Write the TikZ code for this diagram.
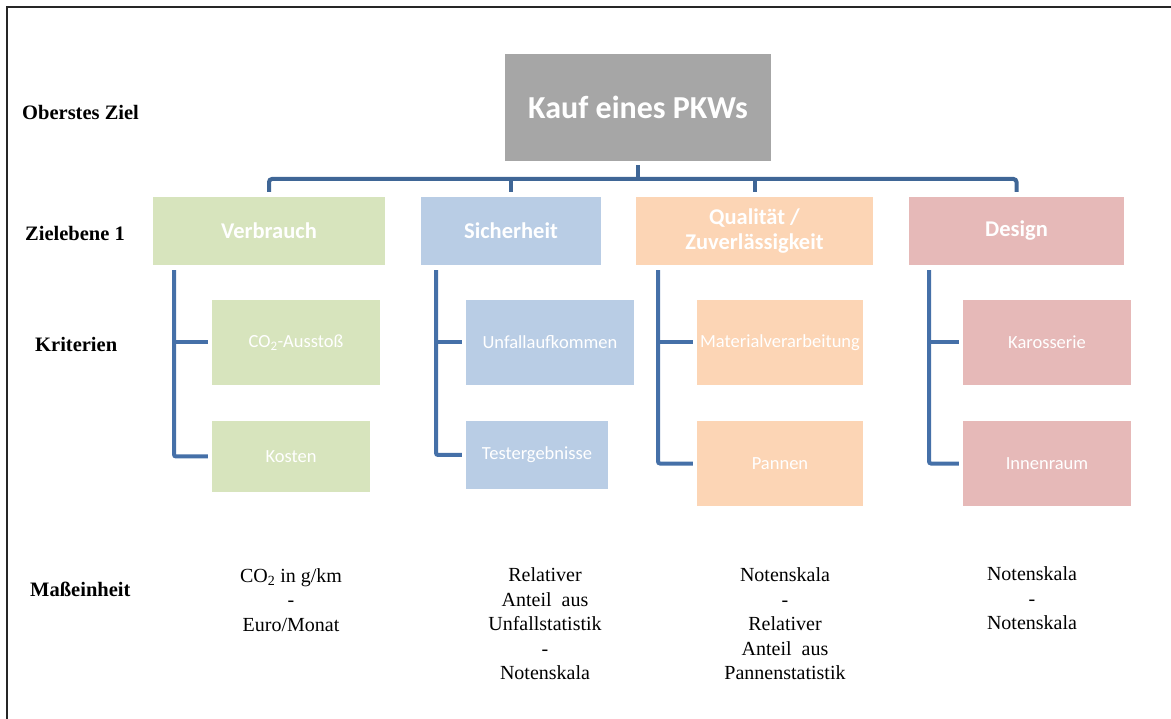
\documentclass[tikz,border=0pt]{standalone}
\usepackage{fontspec}
\setmainfont{Liberation Serif}
\newfontfamily\calibri{Carlito}
\definecolor{cgray}{HTML}{A6A6A6}
\definecolor{cgreen}{HTML}{D7E4BD}
\definecolor{cblue}{HTML}{B9CDE5}
\definecolor{corange}{HTML}{FCD5B5}
\definecolor{cpink}{HTML}{E6B9B8}
\definecolor{cline}{HTML}{4570A8}
\definecolor{cbus}{HTML}{3F6696}
\begin{document}
\begin{tikzpicture}[x=1pt,y=-1pt,
  box/.style={rectangle, inner sep=0pt, text=white, align=center},
  goal/.style={box, font=\calibri\bfseries\fontsize{32}{37}\selectfont},
  lvlone/.style={box, font=\calibri\bfseries\fontsize{22.5}{25}\selectfont},
  crit/.style={box, font=\calibri\fontsize{18.5}{22}\selectfont},
  rowlabel/.style={anchor=west, inner sep=0pt, font=\bfseries\fontsize{20.5}{24}\selectfont},
  unit/.style={align=center, inner sep=0pt, font=\fontsize{20}{24.5}\selectfont},
  bus/.style={draw=cbus, line width=4pt, rounded corners=3pt},
  conn/.style={draw=cline, line width=4pt, rounded corners=2pt}]
\useasboundingbox (0,0) rectangle (1171,719);
% outer frame (left and top edges)
\draw[line width=2.2pt, black!85] (7,719) -- (7,7) -- (1171,7);

% row labels
\node[rowlabel] (lab1) at (22,112) {Oberstes Ziel};
\node[rowlabel] (lab2) at (25,233) {Zielebene 1};
\node[rowlabel] (lab3) at (35,344) {Kriterien};
\node[rowlabel] (lab4) at (30,589) {Maßeinheit};

% top goal
\node[goal, fill=cgray, minimum width=266pt, minimum height=107pt] (top) at (638,107.5) {Kauf eines PKWs};

% level 1
\node[lvlone, fill=cgreen, minimum width=232pt, minimum height=68pt] (verb) at (269,231) {Verbrauch};
\node[lvlone, fill=cblue, minimum width=180pt, minimum height=68pt] (sich) at (511,231) {Sicherheit};
\node[lvlone, fill=corange, minimum width=237pt, minimum height=68pt] (qual) at (754.5,231) {Qualität /\\Zuverlässigkeit};
\node[lvlone, fill=cpink, minimum width=215pt, minimum height=68pt] (design) at (1016.5,231) {Design};

% criteria
\node[crit, fill=cgreen, minimum width=168pt, minimum height=85pt] (co2) at (296,342.5) {CO\textsubscript{2}-Ausstoß};
\node[crit, fill=cgreen, minimum width=158pt, minimum height=71pt] (kosten) at (291,456.5) {Kosten};
\node[crit, fill=cblue, minimum width=168pt, minimum height=85pt] (unfall) at (550,342.5) {Unfallaufkommen};
\node[crit, fill=cblue, minimum width=142pt, minimum height=68pt] (tester) at (537,455) {Testergebnisse};
\node[crit, fill=corange, minimum width=166pt, minimum height=85pt] (material) at (780,342.5) {Materialverarbeitung};
\node[crit, fill=corange, minimum width=166pt, minimum height=85pt] (pannen) at (780,463.5) {Pannen};
\node[crit, fill=cpink, minimum width=168pt, minimum height=85pt] (karo) at (1047,342.5) {Karosserie};
\node[crit, fill=cpink, minimum width=168pt, minimum height=85pt] (innen) at (1047,463.5) {Innenraum};

% units of measurement
\node[unit] (u1) at (291,600) {CO\textsubscript{2} in g/km\\-\\Euro/Monat};
\node[unit] (u2) at (545,624) {Relativer\\Anteil\ \ aus\\Unfallstatistik\\-\\Notenskala};
\node[unit] (u3) at (785,624) {Notenskala\\-\\Relativer\\Anteil\ \ aus\\Pannenstatistik};
\node[unit] (u4) at (1032,598.5) {Notenskala\\-\\Notenskala};

% bus from the goal to level 1
\coordinate (busy) at (0,179);
\draw[bus, shorten <=4pt] (top.south) -- (top.south |- busy);
\draw[bus, shorten <=5pt, shorten >=5pt] (verb.north) -- (verb.north |- busy) -- (design.north |- busy) -- (design.north);
\draw[bus, shorten >=5pt] (sich.north |- busy) -- (sich.north);
\draw[bus, shorten >=5pt] (qual.north |- busy) -- (qual.north);

% level 1 to criteria
\coordinate (v1) at (174,0);
\coordinate (v2) at (436,0);
\coordinate (v3) at (658,0);
\coordinate (v4) at (929,0);
\draw[conn, shorten <=5pt, shorten >=4pt] (verb.south -| v1) |- (kosten.west);
\draw[conn, shorten >=4pt] (v1 |- co2.west) -- (co2.west);
\draw[conn, shorten <=5pt, shorten >=4pt] (sich.south -| v2) |- (tester.west);
\draw[conn, shorten >=4pt] (v2 |- unfall.west) -- (unfall.west);
\draw[conn, shorten <=5pt, shorten >=4pt] (qual.south -| v3) |- (pannen.west);
\draw[conn, shorten >=4pt] (v3 |- material.west) -- (material.west);
\draw[conn, shorten <=5pt, shorten >=4pt] (design.south -| v4) |- (innen.west);
\draw[conn, shorten >=4pt] (v4 |- karo.west) -- (karo.west);
\end{tikzpicture}
\end{document}
